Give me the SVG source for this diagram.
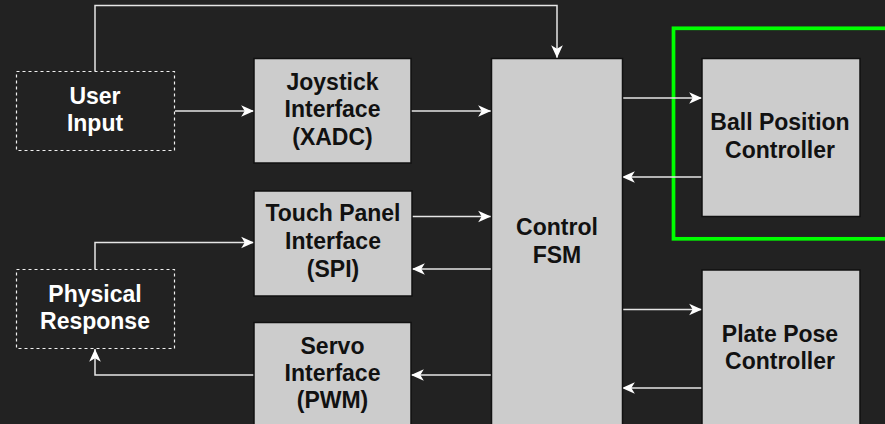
<svg xmlns="http://www.w3.org/2000/svg" width="885" height="424" viewBox="0 0 885 424">
<style>
.box{fill:#CCCCCC;stroke:#111111;stroke-width:1.5}
.ext{fill:none;stroke:#F2F2F2;stroke-width:1.2;stroke-dasharray:3 3}
.t{font-family:"Liberation Sans",Arial,sans-serif;font-weight:bold;font-size:23px;text-anchor:middle;fill:#111111}
.tw{fill:#FFFFFF}
.c{fill:none;stroke:#E6E6E6;stroke-width:1.5;marker-end:url(#arr)}
</style>
<defs>
<marker id="arr" markerUnits="userSpaceOnUse" markerWidth="14" markerHeight="14" viewBox="0 0 12 12" refX="11" refY="6" orient="auto">
<path d="M0,1 L11,6 L0,11 L3,6 Z" fill="#FFFFFF"/>
</marker>
</defs>
<rect width="885" height="424" fill="#222222"/>
<rect x="673.5" y="28.3" width="220" height="210.5" fill="none" stroke="#00FF00" stroke-width="3.7"/>
<g id="connectors">
<path class="c" d="M95,71 V5.5 H557 V58"/>
<path class="c" d="M175,111 H254"/>
<path class="c" d="M411,111 H491"/>
<path class="c" d="M412,216.5 H491"/>
<path class="c" d="M491,269 H412"/>
<path class="c" d="M95,269 V242.5 H254"/>
<path class="c" d="M491,375 H411"/>
<path class="c" d="M254,375 H95 V349"/>
<path class="c" d="M622,98 H702"/>
<path class="c" d="M702,177 H622"/>
<path class="c" d="M622,309.5 H702"/>
<path class="c" d="M702,388 H622"/>
</g>
<g id="user-input">
<rect class="ext" x="16.5" y="71.5" width="158" height="79"/>
<text class="t tw" x="95" y="104">User</text>
<text class="t tw" x="95" y="131">Input</text>
</g>
<g id="physical-response">
<rect class="ext" x="16.5" y="269.5" width="158" height="79"/>
<text class="t tw" x="95" y="302">Physical</text>
<text class="t tw" x="95" y="329">Response</text>
</g>
<g id="joystick">
<rect class="box" x="254" y="58.5" width="157" height="104.5"/>
<text class="t" x="332.5" y="89.5">Joystick</text>
<text class="t" x="332.5" y="117">Interface</text>
<text class="t" x="332.5" y="144.5">(XADC)</text>
</g>
<g id="touch-panel">
<rect class="box" x="254" y="191" width="158" height="105"/>
<text class="t" x="333" y="221">Touch Panel</text>
<text class="t" x="333" y="249">Interface</text>
<text class="t" x="333" y="276.5">(SPI)</text>
</g>
<g id="servo">
<rect class="box" x="254" y="322.5" width="157" height="110"/>
<text class="t" x="332.5" y="353.5">Servo</text>
<text class="t" x="332.5" y="381">Interface</text>
<text class="t" x="332.5" y="408">(PWM)</text>
</g>
<g id="control-fsm">
<rect class="box" x="491.5" y="58.5" width="131" height="375"/>
<text class="t" x="557" y="235">Control</text>
<text class="t" x="557" y="262.5">FSM</text>
</g>
<g id="ball-position">
<rect class="box" x="702" y="58.5" width="158" height="158"/>
<text class="t" x="780" y="130">Ball Position</text>
<text class="t" x="780" y="157.5">Controller</text>
</g>
<g id="plate-pose">
<rect class="box" x="702" y="270" width="158" height="163"/>
<text class="t" x="780" y="341.5">Plate Pose</text>
<text class="t" x="780" y="369">Controller</text>
</g>
</svg>
